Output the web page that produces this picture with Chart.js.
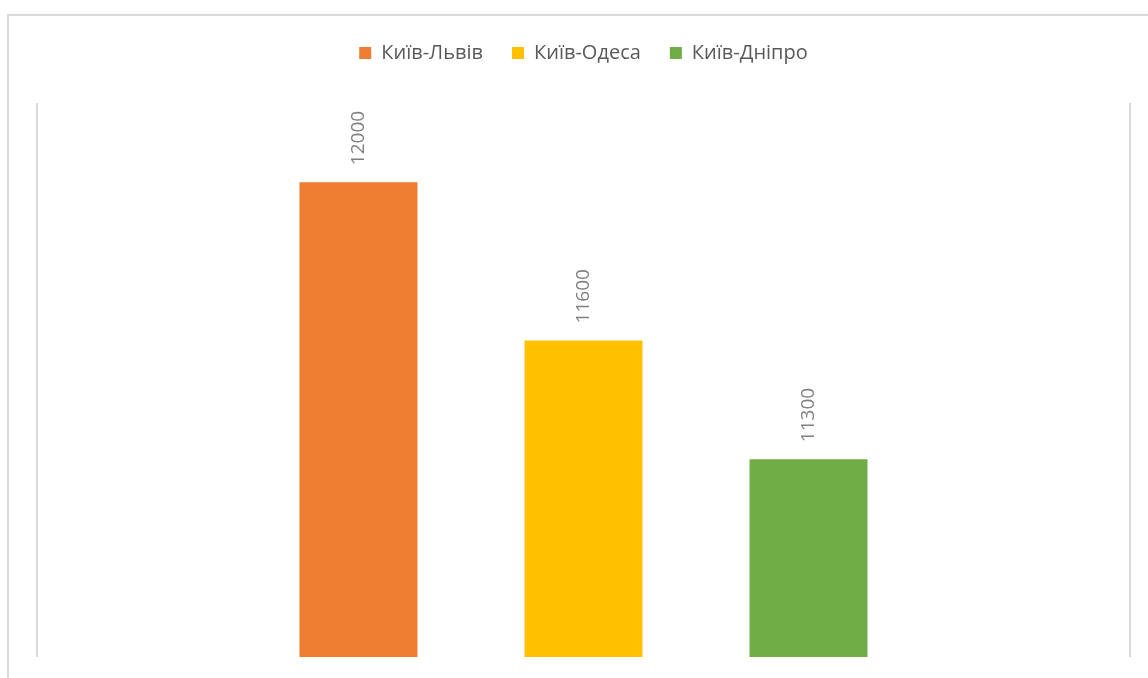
<!DOCTYPE html>
<html>
<head>
<meta charset="utf-8">
<script src="https://cdn.jsdelivr.net/npm/chart.js@4/dist/chart.umd.min.js"></script>
<style>
	html, body { margin: 0; padding: 0; background: #fff; overflow: hidden; }
	#frame { position: absolute; left: 7px; top: 14px; width: 1200px; height: 700px; border: 2px solid #d9d9d9; box-sizing: border-box; }
	#stockGraph { position: absolute; left: 0; top: 0; }
</style>
</head>
<body>
<div id="frame"></div>
<canvas id="stockGraph" width="1148" height="678"></canvas>
<script>
// chart data
var categories = [''];
var seriesNames = ['Київ-Львів', 'Київ-Одеса', 'Київ-Дніпро'];
var seriesValues = [12000, 11600, 11300];
var seriesColors = ['#ED7D31', '#FFC000', '#70AD47'];

var ctx = document.getElementById('stockGraph');

/*
* draws the rotated value over each bar
*/
var valueLabels = {
	id: 'valueLabels',
	beforeInit: function(chart) {
		// leave extra room under the legend
		var fit = chart.legend.fit;
		chart.legend.fit = function() {
			fit.call(this);
			this.height += 30;
		};
	},
	afterDatasetsDraw: function(chart) {
		var c = chart.ctx;
		c.save();
		c.font = '19px "Open Sans", Lato, sans-serif';
		c.fillStyle = '#808080';
		c.textAlign = 'left';
		c.textBaseline = 'middle';
		chart.data.datasets.forEach(function(ds, i) {
			var meta = chart.getDatasetMeta(i);
			meta.data.forEach(function(bar, j) {
				c.save();
				c.translate(bar.x, bar.y - 17);
				c.rotate(-Math.PI / 2);
				c.fillText(String(ds.data[j]), 0, 0);
				c.restore();
			});
		});
		c.restore();
	}
};

var datasets = [];
for (var i = 0; i < seriesNames.length; i++) {
	datasets.push({
		label: seriesNames[i],
		data: [seriesValues[i]],
		backgroundColor: seriesColors[i],
		borderWidth: 0,
		categoryPercentage: 0.6176,
		barPercentage: 0.5244
	});
}

var chart = new Chart(ctx, {
	type: 'bar',
	data: {
		labels: categories,
		datasets: datasets
	},
	options: {
		responsive: false,
		animation: false,
		layout: {
			padding: { left: 37, right: 18, top: 14, bottom: 21 }
		},
		plugins: {
			tooltip: { enabled: false },
			legend: {
				position: 'top',
				labels: {
					boxWidth: 12,
					boxHeight: 12,
					padding: 29,
					color: '#595959',
					font: { size: 20, family: '"Open Sans", Lato, sans-serif' }
				}
			}
		},
		scales: {
			x: {
				offset: true,
				ticks: { display: false },
				grid: { display: true, color: '#d9d9d9', lineWidth: 2, drawTicks: false },
				border: { display: false }
			},
			y: {
				display: false,
				min: 10800,
				max: 12200
			}
		}
	},
	plugins: [valueLabels]
});
</script>
</body>
</html>
